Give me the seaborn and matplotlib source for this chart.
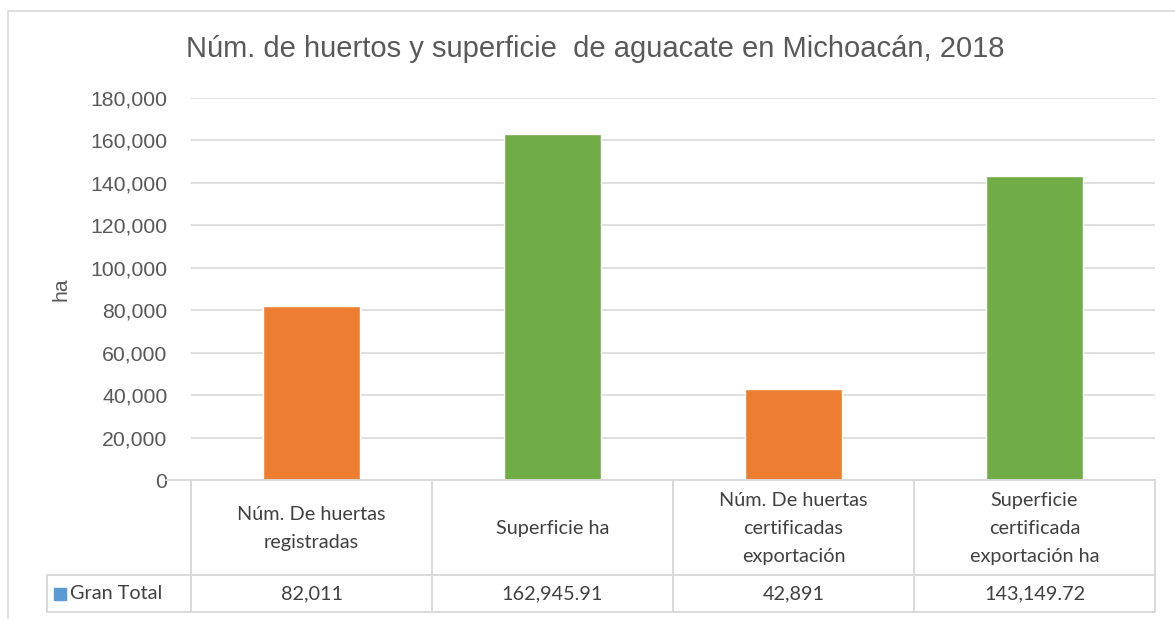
import matplotlib
matplotlib.use("Agg")
import matplotlib.pyplot as plt
from matplotlib.lines import Line2D
from matplotlib.patches import Rectangle
from matplotlib.ticker import FuncFormatter
import seaborn as sns
import pandas as pd

# Data
categorias = [
    "Núm. De huertas\nregistradas",
    "Superficie ha",
    "Núm. De huertas\ncertificadas\nexportación",
    "Superficie\ncertificada\nexportación ha",
]
valores = [82011, 162945.91, 42891, 143149.72]
etiquetas_valor = ["82,011", "162,945.91", "42,891", "143,149.72"]
colores = ["#ED7D31", "#70AD47", "#ED7D31", "#70AD47"]
serie = "Gran Total"
titulo = "Núm. de huertos y superficie  de aguacate en Michoacán, 2018"
yticks = [0, 20000, 40000, 60000, 80000, 100000, 120000, 140000, 160000, 180000]

sns.set_theme(style="white")
plt.rcParams["font.family"] = ["Liberation Sans", "DejaVu Sans"]

W, H = 1175, 619
fig = plt.figure(figsize=(W / 100, H / 100), dpi=100)

def fx(px):
    return px / W

def fy(py):
    return 1 - py / H

ax_l, ax_r, ax_t, ax_b = 191, 1155, 98, 480
ax = fig.add_axes([fx(ax_l), fy(ax_b), fx(ax_r - ax_l), fy(ax_t) - fy(ax_b)])

df = pd.DataFrame({"cat": categorias, "val": valores})
sns.barplot(data=df, x="cat", y="val", hue="cat", palette=colores,
            width=0.4, legend=False, ax=ax, saturation=1)

ax.set_xlim(-0.5, 3.5)
ax.set_ylim(0, 180000)
ax.set_yticks(yticks)
ax.yaxis.set_major_formatter(FuncFormatter(lambda v, p: f"{int(v):,}"))
ax.tick_params(axis="y", labelsize=15.3, labelcolor="#595959", length=0, pad=17)
ax.set_xticks([])
ax.set_xlabel("")
ax.set_ylabel("ha", fontsize=15.3, color="#595959", labelpad=14)
ax.grid(axis="y", color="#D9D9D9", linewidth=1.2)
ax.set_axisbelow(True)
for s in ax.spines.values():
    s.set_visible(False)

# Chart frame
fig.patches.append(Rectangle((fx(8), fy(700)), fx(1300), fy(11) - fy(700),
                             transform=fig.transFigure, fill=False,
                             edgecolor="#D9D9D9", linewidth=1.2))

fig.text(fx(595), fy(49), titulo, ha="center", va="center",
         fontsize=21, color="#595959")

# Data table under the axis
lc = "#D9D9D9"
row1, row2, row3 = 480, 575, 612
cols = [191, 432, 673, 914, 1155]

def hline(y, x0, x1):
    fig.add_artist(Line2D([fx(x0), fx(x1)], [fy(y), fy(y)], color=lc, lw=1.4,
                          transform=fig.transFigure))

def vline(x, y0, y1):
    fig.add_artist(Line2D([fx(x), fx(x)], [fy(y0), fy(y1)], color=lc, lw=1.4,
                          transform=fig.transFigure))

hline(row1, 166, cols[-1])
hline(row2, 47, cols[-1])
hline(row3, 47, cols[-1])
for c in cols:
    vline(c, row1, row3)
vline(47, row2, row3)

tfont = ["Lato", "DejaVu Sans"]
for i, (cat, lab) in enumerate(zip(categorias, etiquetas_valor)):
    xc = (cols[i] + cols[i + 1]) / 2
    fig.text(fx(xc), fy((row1 + row2) / 2 + 1), cat, ha="center", va="center",
             fontsize=14.3, color="#404040", family=tfont, linespacing=1.8)
    fig.text(fx(xc), fy((row2 + row3) / 2), lab, ha="center", va="center",
             fontsize=14.3, color="#404040", family=tfont)

# Series key in the table row
fig.patches.append(Rectangle((fx(54), fy(600)), fx(12), fy(588) - fy(600),
                             transform=fig.transFigure, color="#5B9BD5"))
fig.text(fx(70), fy((row2 + row3) / 2), serie, ha="left", va="center",
         fontsize=14.3, color="#404040", family=tfont)

fig.savefig("out.png", dpi=100, facecolor="white")
